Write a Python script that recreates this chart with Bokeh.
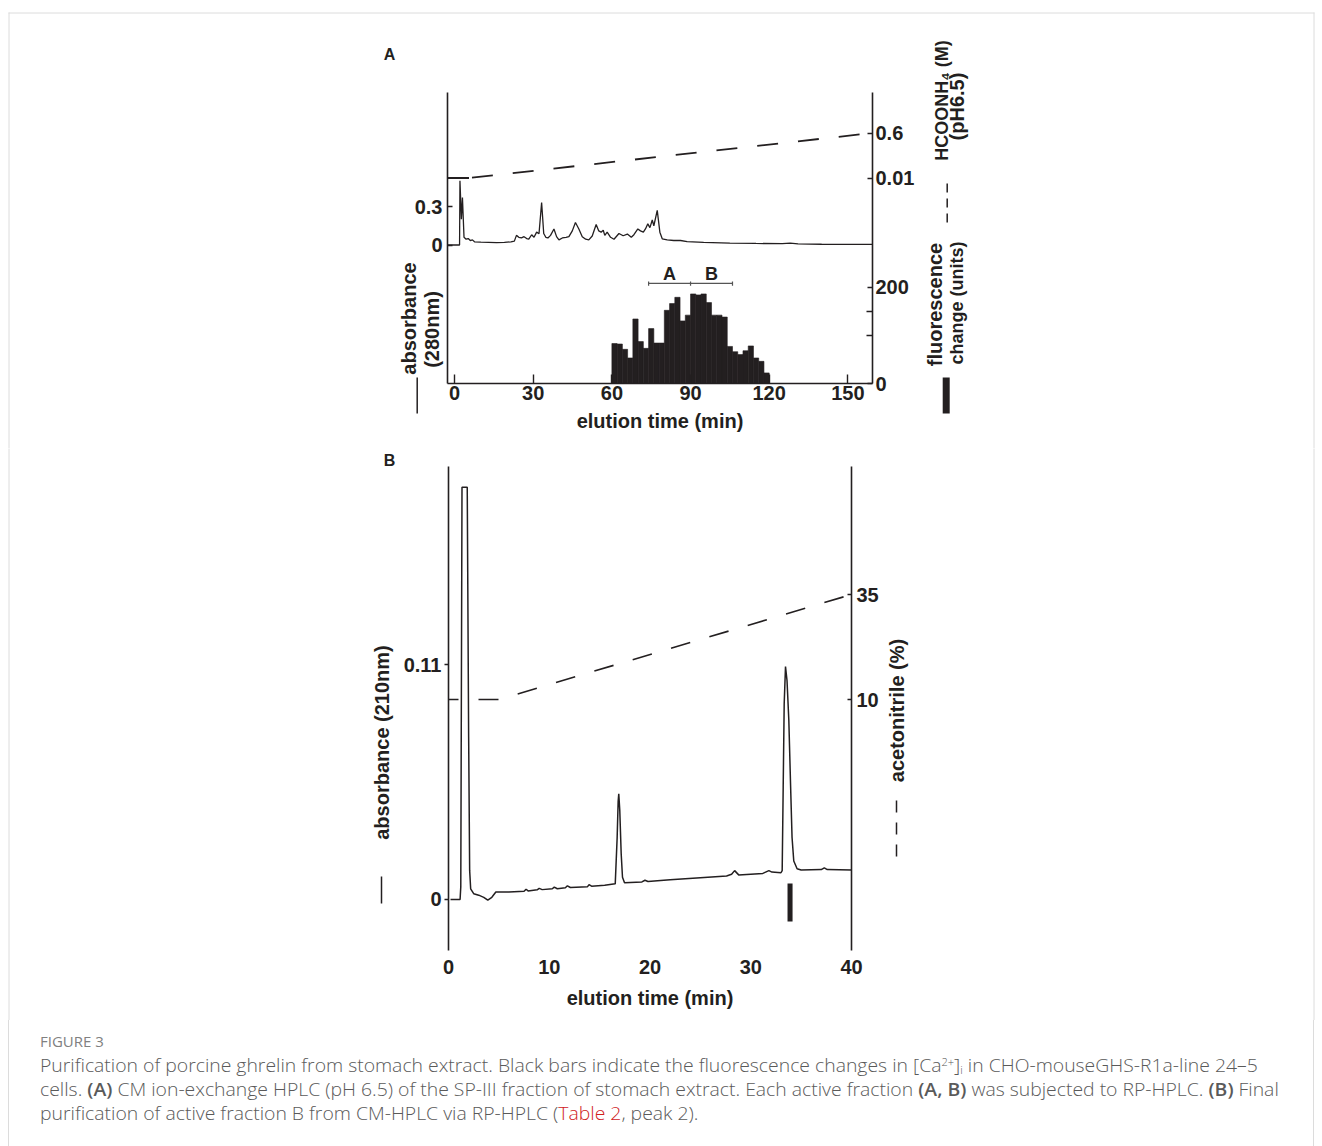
import math
from bokeh.plotting import figure
from bokeh.models import Range1d, LinearAxis, FixedTicker, Div
from bokeh.core.properties import value
from bokeh.embed import file_html
from bokeh.resources import INLINE

INK = "#231f20"
FONT = "Liberation Sans"
BOX = "#dcdcdc"

# ---------------- Panel A : CM ion-exchange HPLC ----------------
a_time = [-2.7, 1.9, 2.05, 2.6, 3.0, 3.6, 4.4, 5.2, 6.0, 6.8, 7.6, 10.0, 13.0, 16.0, 19.0,
          21.5, 22.8, 23.6, 24.5, 25.5, 26.5, 27.5, 28.3, 29.4, 30.3, 31.3, 32.2, 33.2, 34.0,
          34.8, 35.6, 36.6, 37.9, 38.9, 39.8, 41.1, 42.5, 43.6, 44.9, 46.1, 47.4, 48.7, 50.0,
          51.2, 52.5, 54.0, 55.0, 55.9, 56.7, 57.3, 58.2, 59.5, 60.8, 62.7, 64.3, 65.9, 67.4,
          68.4, 69.9, 70.9, 72.0, 72.8, 73.7, 74.5, 75.4, 76.0, 77.3, 78.3, 79.2, 81.1, 83.6,
          86.2, 88.7, 95.0, 105.0, 115.0, 125.0, 128.0, 131.0, 140.0, 150.0, 159.4]
a_abs280 = [0.0, 0.0, 0.50, 0.20, 0.37, 0.06, 0.045, 0.05, 0.035, 0.04, 0.025, 0.022, 0.02, 0.018, 0.02,
            0.025, 0.03, 0.075, 0.06, 0.055, 0.065, 0.05, 0.045, 0.08, 0.06, 0.10, 0.088, 0.33, 0.09,
            0.06, 0.055, 0.075, 0.125, 0.065, 0.04, 0.055, 0.06, 0.065, 0.11, 0.175, 0.125, 0.065, 0.045,
            0.04, 0.07, 0.16, 0.11, 0.10, 0.115, 0.075, 0.10, 0.06, 0.045, 0.09, 0.072, 0.085, 0.06,
            0.08, 0.125, 0.11, 0.10, 0.125, 0.165, 0.135, 0.195, 0.15, 0.27, 0.10, 0.048, 0.04, 0.035,
            0.035, 0.027, 0.02, 0.015, 0.012, 0.01, 0.014, 0.008, 0.006, 0.005, 0.005]

a_fraction_mid = [61, 63, 65, 67, 69, 71, 73, 75, 77, 79, 81, 83, 85, 87, 89,
                  91, 93, 95, 97, 99, 101, 103, 105, 107, 109, 111, 113, 115, 117, 119]
a_fluorescence = [83, 82, 71, 53, 134, 87, 73, 114, 84, 84, 152, 166, 179, 130, 142,
                  186, 184, 186, 168, 142, 142, 138, 77, 66, 60, 68, 78, 53, 46, 22]
a_fraction_width = 2

a_grad_time = [-2.7, 5.5, 159.4]
a_grad_conc = [0.01, 0.01, 0.6]

pool_labels = ["A", "B"]
pool_start = [74, 90]
pool_end = [90, 106]

a_time_ticks = [0, 30, 60, 90, 120, 150]
a_abs_ticks = [0, 0.3]
a_fluor_ticks = [0, 200]
a_fluor_minor = [100, 150]
a_grad_ticks = [0.01, 0.6]

# ---------------- Panel B : RP-HPLC ----------------
b_time = [0.2, 1.15, 1.22, 1.34, 1.86, 2.0, 2.1, 2.2, 2.5, 3.0, 3.5, 3.9, 4.3, 4.7, 6.0, 7.5, 7.7,
          7.9, 8.8, 9.0, 9.3, 10.3, 10.5, 10.8, 11.6, 11.8, 12.1, 13.8, 13.95, 14.2, 15.5, 16.55,
          16.74, 16.84, 16.9, 17.0, 17.14, 17.27, 17.47, 19.2, 19.5, 19.8, 22.0, 25.0, 27.6, 28.1,
          28.4, 28.8, 31.2, 31.8, 32.1, 33.0, 33.12, 33.22, 33.32, 33.45, 33.6, 33.78, 33.95, 34.1,
          34.27, 34.6, 35.0, 37.0, 37.3, 37.6, 40.0]
b_abs210 = [0.0, 0.0, 0.006, 0.193, 0.193, 0.076, 0.0136, 0.005, 0.0027, 0.002, 0.001, -0.0003,
            0.001, 0.0035, 0.0035, 0.0038, 0.0048, 0.004, 0.0045, 0.0052, 0.0046, 0.005, 0.0058,
            0.005, 0.0055, 0.0064, 0.0056, 0.006, 0.0069, 0.0062, 0.0066, 0.0073, 0.029, 0.046,
            0.0495, 0.0417, 0.0214, 0.0104, 0.0078, 0.0082, 0.009, 0.0084, 0.0092, 0.0102, 0.011,
            0.0118, 0.0135, 0.0115, 0.0122, 0.0135, 0.0128, 0.0125, 0.0135, 0.0526, 0.0917, 0.109,
            0.1025, 0.0838, 0.054, 0.029, 0.018, 0.0144, 0.0138, 0.014, 0.0148, 0.014, 0.0138]

b_acn_time = [0, 5, 40]
b_acn_pct = [10, 10, 35]
b_active_time = [33.9]

b_time_ticks = [0, 10, 20, 30, 40]
b_abs_ticks = [0, 0.11]
b_acn_ticks = [10, 35]


def fmt(v):
    return "%g" % v


def style_axis(ax):
    ax.axis_line_color = INK
    ax.axis_line_width = 1.6
    ax.major_tick_line_color = INK
    ax.major_tick_line_width = 1.4
    ax.minor_tick_line_color = INK
    ax.minor_tick_line_width = 1.4
    ax.major_label_text_font = FONT
    ax.major_label_text_font_style = "bold"
    ax.major_label_text_font_size = "20px"
    ax.major_label_text_color = INK
    ax.axis_label_text_font = FONT
    ax.axis_label_text_font_style = "bold"
    ax.axis_label_text_font_size = "20px"
    ax.axis_label_text_color = INK


def to_data(p, frame, px, py):
    L, R, T, B = frame
    xr, yr = p.x_range, p.y_range
    x = xr.start + (px - L) / (R - L) * (xr.end - xr.start)
    y = yr.start + (B - py) / (B - T) * (yr.end - yr.start)
    return x, y


def side_text(p, frame, px, py, text, size="20px", vertical=True):
    x, y = to_data(p, frame, px, py)
    p.text(x=[x], y=[y], text=[text], angle=math.pi / 2 if vertical else 0,
           text_font=value(FONT), text_font_style="bold", text_font_size=size,
           text_color=INK, text_align="center", text_baseline="middle", level="overlay")


def side_stroke(p, frame, px0, py0, px1, py1, width=1.5, dash="solid", color=INK):
    x0, y0 = to_data(p, frame, px0, py0)
    x1, y1 = to_data(p, frame, px1, py1)
    p.segment(x0=[x0], y0=[y0], x1=[x1], y1=[y1], line_color=color, line_width=width,
              line_dash=dash, line_cap="butt", level="overlay")


PAGE_W = 1322

# ---------------- figure A ----------------
A_TOP = 0
A_FRAME = (447, 872, 92, 383)
A_H = 448
pa = figure(width=PAGE_W, height=A_H, output_backend="svg", toolbar_location=None,
            x_range=Range1d(-2.7, 159.4), y_range=Range1d(-1.0792, 1.1883),
            min_border_left=A_FRAME[0], min_border_right=PAGE_W - A_FRAME[1],
            min_border_top=A_FRAME[2] - A_TOP, min_border_bottom=A_TOP + A_H - A_FRAME[3])
pa.extra_y_ranges = {"fluor": Range1d(0, 604.4), "grad": Range1d(-2.684, 1.131)}
pa.grid.visible = False
pa.outline_line_color = None
pa.background_fill_color = None
pa.border_fill_color = None

ya = pa.yaxis[0]
style_axis(ya)
ya.ticker = FixedTicker(ticks=a_abs_ticks, minor_ticks=[])
ya.major_label_overrides = {t: fmt(t) for t in a_abs_ticks}
ya.major_tick_in = 5
ya.major_tick_out = 0
ya.major_label_standoff = 5

xa = pa.xaxis[0]
style_axis(xa)
xa.ticker = FixedTicker(ticks=a_time_ticks, minor_ticks=[])
xa.major_tick_in = 9
xa.major_tick_out = 0
xa.major_label_standoff = 2
xa.axis_label = "elution time (min)"
xa.axis_label_standoff = 7

fr = pa.extra_y_ranges["fluor"]
gr = pa.extra_y_ranges["grad"]
grad_pos = [round((g - gr.start) / (gr.end - gr.start) * (fr.end - fr.start) + fr.start, 2)
            for g in a_grad_ticks]
ra = LinearAxis(y_range_name="fluor",
                ticker=FixedTicker(ticks=a_fluor_ticks + grad_pos, minor_ticks=a_fluor_minor))
style_axis(ra)
over = {t: fmt(t) for t in a_fluor_ticks}
for gpos, g in zip(grad_pos, a_grad_ticks):
    over[gpos] = fmt(g)
ra.major_label_overrides = over
ra.major_tick_in = 5
ra.major_tick_out = 0
ra.minor_tick_in = 6
ra.minor_tick_out = 0
ra.major_label_standoff = 3
pa.add_layout(ra, "right")

pa.vbar(x=a_fraction_mid, width=a_fraction_width, top=a_fluorescence, bottom=0,
        y_range_name="fluor", fill_color=INK, line_color=INK, line_width=0.6)
pa.line(a_time, a_abs280, line_color=INK, line_width=1.3)
pa.line(a_grad_time[:2], a_grad_conc[:2], y_range_name="grad", line_color=INK, line_width=1.8)
pa.line(a_grad_time[1:], a_grad_conc[1:], y_range_name="grad", line_color=INK, line_width=1.8,
        line_dash="21 20", line_dash_offset=38)
BR_Y = 208
pa.segment(x0=pool_start, y0=[BR_Y] * len(pool_start), x1=pool_end, y1=[BR_Y] * len(pool_end),
           y_range_name="fluor", line_color="#555555", line_width=1.2)
edges = sorted(set(pool_start + pool_end))
pa.segment(x0=edges, y0=[BR_Y - 5] * len(edges), x1=edges, y1=[BR_Y + 4] * len(edges),
           y_range_name="fluor", line_color="#555555", line_width=1.2)
pa.text(x=[(s + e) / 2 for s, e in zip(pool_start, pool_end)], y=[BR_Y + 19] * len(pool_labels),
        text=pool_labels, y_range_name="fluor", text_font=value(FONT), text_font_style="bold",
        text_font_size="18px", text_color=INK, text_align="center", text_baseline="middle")

side_text(pa, A_FRAME, 389, 54, "A", size="16px", vertical=False)
side_text(pa, A_FRAME, 408.3, 318, "absorbance")
side_text(pa, A_FRAME, 431.7, 329, "(280nm)")
side_stroke(pa, A_FRAME, 416.7, 377, 416.7, 413, width=1.5)
side_text(pa, A_FRAME, 941.7, 100, "HCOONH\u2084 (M)", size="18px")
side_text(pa, A_FRAME, 956, 106, "(pH6.5)")
side_stroke(pa, A_FRAME, 946.7, 183, 946.7, 222, width=1.5, dash="9 6")
side_text(pa, A_FRAME, 934, 304, "fluorescence")
side_text(pa, A_FRAME, 956, 300, "change  (units)", size="18px")
side_stroke(pa, A_FRAME, 945.7, 377, 945.7, 413, width=7)
# page container edges
side_stroke(pa, A_FRAME, 8, 12.5, 1314, 12.5, width=1, color=BOX)
side_stroke(pa, A_FRAME, 8.5, 12, 8.5, A_TOP + A_H, width=1, color=BOX)
side_stroke(pa, A_FRAME, 1313.5, 12, 1313.5, A_TOP + A_H, width=1, color=BOX)

# ---------------- figure B ----------------
B_TOP = A_TOP + A_H
B_FRAME = (448, 851, 466, 950)
B_H = 572
pb = figure(width=PAGE_W, height=B_H, output_backend="svg", toolbar_location=None,
            x_range=Range1d(0, 40), y_range=Range1d(-0.0239, 0.2027),
            min_border_left=B_FRAME[0], min_border_right=PAGE_W - B_FRAME[1],
            min_border_top=B_FRAME[2] - B_TOP, min_border_bottom=B_TOP + B_H - B_FRAME[3])
pb.extra_y_ranges = {"acn": Range1d(-49.76, 65.48)}
pb.grid.visible = False
pb.outline_line_color = None
pb.background_fill_color = None
pb.border_fill_color = None

yb = pb.yaxis[0]
style_axis(yb)
yb.ticker = FixedTicker(ticks=b_abs_ticks, minor_ticks=[])
yb.major_label_overrides = {t: fmt(t) for t in b_abs_ticks}
yb.major_tick_in = 0
yb.major_tick_out = 4
yb.major_label_standoff = 3

xb = pb.xaxis[0]
style_axis(xb)
xb.ticker = FixedTicker(ticks=b_time_ticks, minor_ticks=[])
xb.axis_line_color = None
xb.major_tick_line_color = None
xb.major_label_standoff = 3
xb.axis_label = "elution time (min)"
xb.axis_label_standoff = 10

rb = LinearAxis(y_range_name="acn", ticker=FixedTicker(ticks=b_acn_ticks, minor_ticks=[]))
style_axis(rb)
rb.major_label_overrides = {t: fmt(t) for t in b_acn_ticks}
rb.major_tick_in = 4
rb.major_tick_out = 0
rb.major_label_standoff = 5
pb.add_layout(rb, "right")

pb.line(b_time, b_abs210, line_color=INK, line_width=1.5)
pb.line(b_acn_time, b_acn_pct, y_range_name="acn", line_color=INK, line_width=1.6,
        line_dash="20 20", line_dash_offset=10)
pb.vbar(x=b_active_time, width=0.5, top=0.0075, bottom=-0.0103, fill_color=INK, line_color=None)

side_text(pb, B_FRAME, 389, 460, "B", size="16px", vertical=False)
side_text(pb, B_FRAME, 381, 742, "absorbance (210nm)")
side_stroke(pb, B_FRAME, 381, 876, 381, 903, width=1.5)
side_text(pb, B_FRAME, 896.7, 710, "acetonitrile (%)")
side_stroke(pb, B_FRAME, 896, 800, 896, 858, width=1.5, dash="12 10")
side_stroke(pb, B_FRAME, 8.5, B_TOP, 8.5, B_TOP + B_H, width=1, color=BOX)
side_stroke(pb, B_FRAME, 1313.5, B_TOP, 1313.5, B_TOP + B_H, width=1, color=BOX)

# ---------------- caption ----------------
LINE = ('font-size:17.5px;line-height:24px;height:24px;color:#5a5a5a;font-weight:300;'
        'white-space:nowrap;transform:scaleX(1.107);transform-origin:0 50%;')
SMALL = 'font-size:10px;line-height:0;'
caption_html = (
    '<div style="font-family:\'Open Sans\',sans-serif;padding:9px 0 0 32px;width:1306px;'
    'box-sizing:border-box;height:126px;'
    'box-shadow:inset 1px 0 0 ' + BOX + ', inset -1px 0 0 ' + BOX + ';">'
    '<div style="font-size:15px;line-height:24px;height:24px;color:#808080;">FIGURE 3</div>'
    '<div style="' + LINE + '">Purification of porcine ghrelin from stomach extract. Black bars '
    'indicate the fluorescence changes in [Ca<sup style="' + SMALL + 'vertical-align:6px;">2+</sup>]'
    '<sub style="' + SMALL + 'vertical-align:-2px;">i</sub> in CHO-mouseGHS-R1a-line 24\u20135</div>'
    '<div style="' + LINE + '">cells. <b style="font-weight:600;">(A)</b> CM ion-exchange HPLC '
    '(pH 6.5) of the SP-III fraction of stomach extract. Each active fraction '
    '<b style="font-weight:600;">(A, B)</b> was subjected to RP-HPLC. '
    '<b style="font-weight:600;">(B)</b> Final</div>'
    '<div style="' + LINE + '">purification of active fraction B from CM-HPLC via RP-HPLC '
    '(<span style="color:#d0211c;">Table 2</span>, peak 2).</div>'
    '</div>'
)
caption = Div(text=caption_html, width=1306, margin=(0, 0, 0, 8))

open("out.html", "w").write(file_html([pa, pb, caption], INLINE))
